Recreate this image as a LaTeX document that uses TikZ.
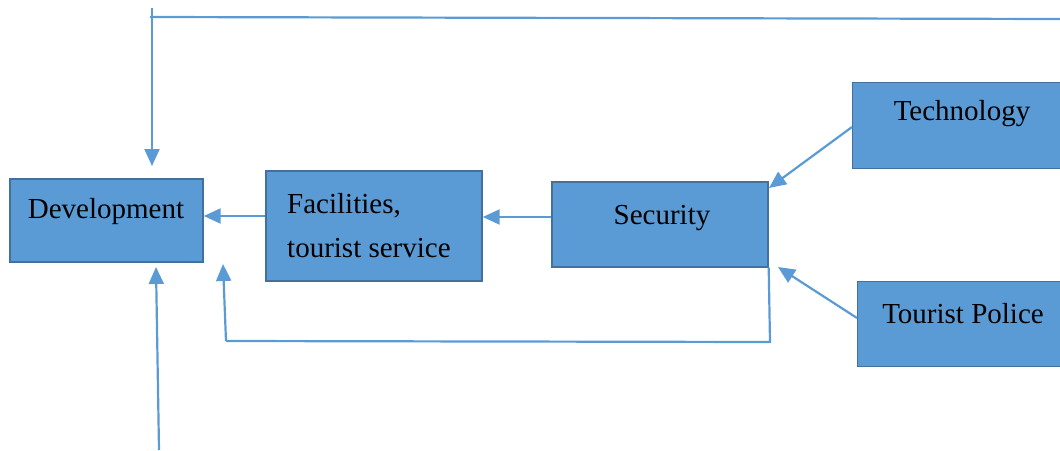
\documentclass[tikz,border=0pt]{standalone}
\usepackage{fontspec}
\setmainfont{Liberation Serif}
\usetikzlibrary{arrows.meta}
\definecolor{boxfill}{HTML}{5B9BD5}
\definecolor{boxline}{HTML}{41719C}
\definecolor{wire}{HTML}{5B9BD5}
\begin{document}
\begin{tikzpicture}[x=1pt,y=-1pt,
  box/.style={draw=boxline,line width=1.4pt,fill=boxfill,inner sep=0pt},
  lbl/.style={inner sep=0pt,font=\fontsize{29}{44}\selectfont,text=black},
  flow/.style={draw=wire,line width=2.2pt,-{Triangle[length=17pt,width=15pt]}},
  wireline/.style={draw=wire,line width=2.2pt}]
\useasboundingbox (0,0) rectangle (1060,450);

% boxes
\node[minimum width=193pt,minimum height=83pt,box] (dev) at (106.5,220.5) {};
\node[minimum width=216pt,minimum height=110pt,box] (fac) at (374,226) {};
\node[minimum width=216pt,minimum height=85pt,box] (sec) at (660,224.5) {};
\node[minimum width=230pt,minimum height=86pt,box,anchor=north west] (tech) at (852,82) {};
\node[minimum width=230pt,minimum height=85pt,box,anchor=north west] (pol) at (857,281) {};

% labels
\node[lbl,anchor=base] (devt) at (106,218) {Development};
\node[lbl,anchor=base west] (fact1) at (287,213) {Facilities,};
\node[lbl,anchor=base west] (fact2) at (287,257) {tourist service};
\node[lbl,anchor=base] (sect) at (662,224) {Security};
\node[lbl,anchor=base] (techt) at (962,120) {Technology};
\node[lbl,anchor=base] (polt) at (963,323) {Tourist Police};

% main chain
\draw[flow] (fac.west |- 0,216) -- (dev.east |- 0,216);
\draw[flow] (sec.west |- 0,217) -- (fac.east |- 0,217);
\draw[flow] (tech.west |- 0,127) -- (769,188);
\draw[flow] (pol.west |- 0,318) -- (778,267);

% feedback from security back to development
\coordinate (fb1) at (770,342);
\coordinate (fb2) at (226,341);
\coordinate (fb3) at (223,264);
\draw[wireline] (sec.south east) -- (fb1) -- (fb2);
\draw[flow] (fb2) -- (fb3);

% loop across the top
\coordinate (topr) at (1060,19);
\coordinate (topl) at (150,17);
\coordinate (topv) at (152,8);
\coordinate (toptip) at (152,166);
\draw[wireline] (topl) -- (topr);
\draw[flow] (topv) -- (toptip);

% input from below
\coordinate (low) at (159,450);
\coordinate (lowtip) at (156,267);
\draw[flow] (low) -- (lowtip);
\end{tikzpicture}
\end{document}
